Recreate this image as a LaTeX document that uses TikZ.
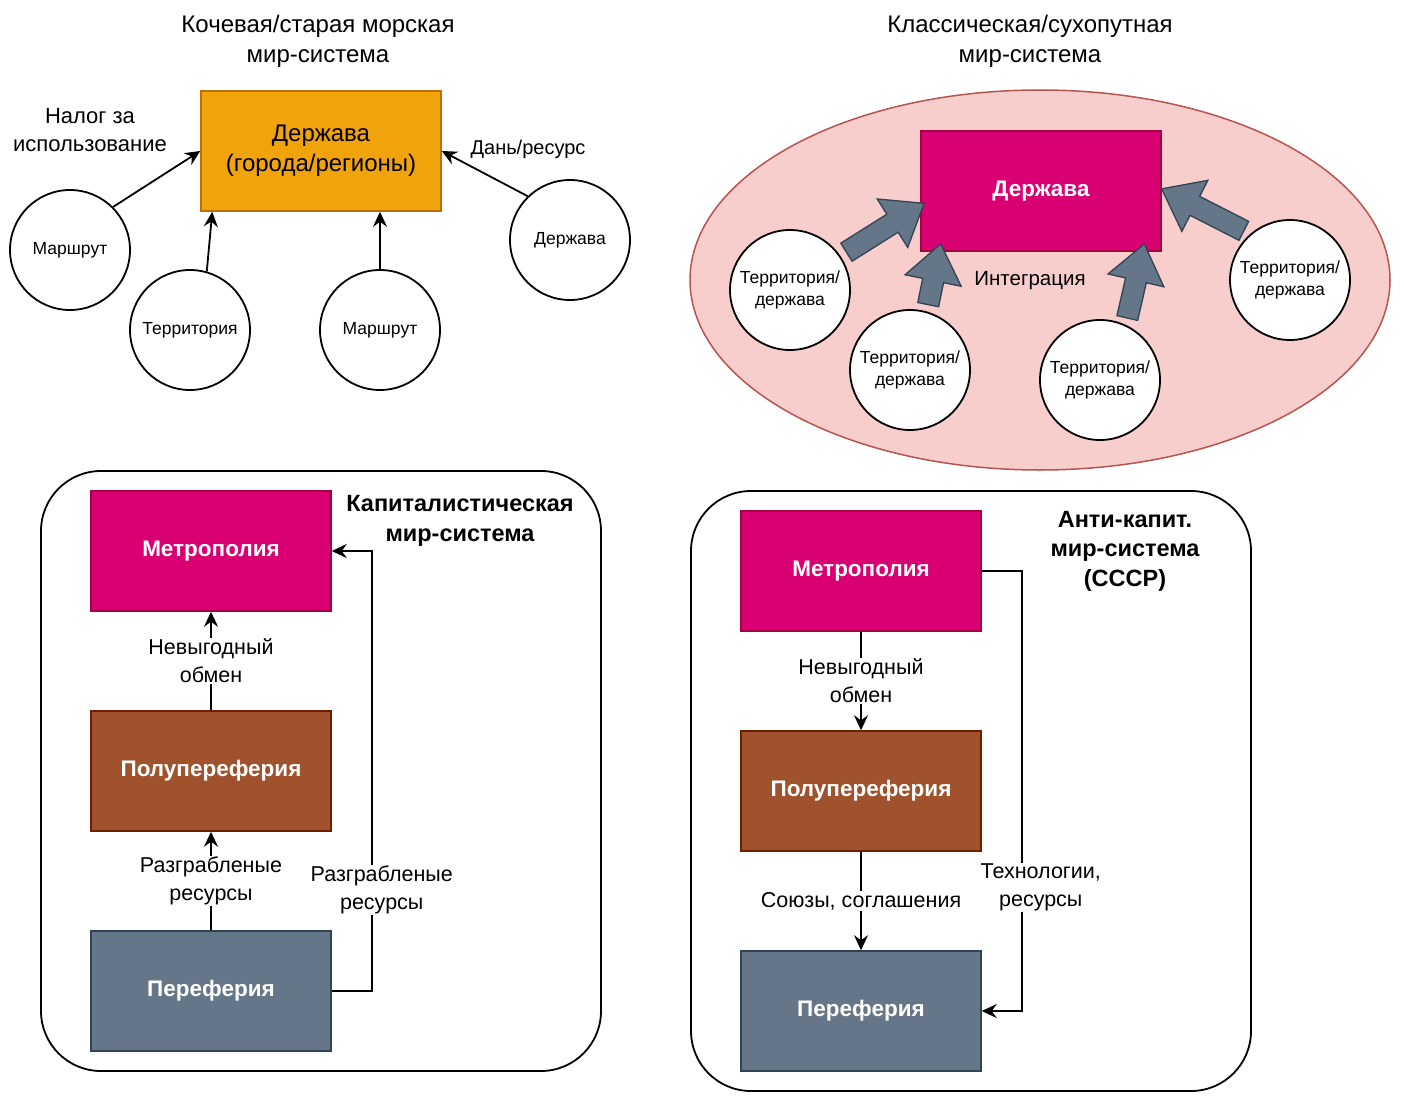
\documentclass[tikz,border=0pt]{standalone}
\usepackage{fontspec}
\setmainfont{Liberation Sans}
\usetikzlibrary{arrows.meta,calc,shapes.arrows}

\definecolor{arancioF}{HTML}{F0A30A}
\definecolor{arancioD}{HTML}{BD7000}
\definecolor{magentaF}{HTML}{D80073}
\definecolor{magentaD}{HTML}{A50040}
\definecolor{marroneF}{HTML}{A0522D}
\definecolor{marroneD}{HTML}{6D1F00}
\definecolor{ardesiaF}{HTML}{647687}
\definecolor{ardesiaD}{HTML}{314354}
\definecolor{rosaF}{HTML}{F8CECC}
\definecolor{rosaD}{HTML}{B85450}

\tikzset{
  blocco/.style={draw, line width=1.5pt, minimum width=240pt, minimum height=120pt,
    inner sep=0pt, align=center, text=white, font=\fontsize{22.5}{27}\selectfont\bfseries},
  cerchio/.style={circle, draw, line width=1.8pt, fill=white, minimum size=120pt,
    inner sep=0pt, align=center, font=\fontsize{17.5}{22}\selectfont},
  freccia/.style={-{Stealth[length=15pt,width=14pt,inset=5pt]}, line width=1.8pt},
  etichetta/.style={fill=white, align=center, inner sep=1pt, font=\fontsize{21.5}{28}\selectfont},
  titolo/.style={align=center, font=\fontsize{24}{30}\selectfont},
  grande/.style={single arrow, draw=ardesiaD, fill=ardesiaF, line width=1.3pt, inner sep=10pt,
    single arrow head extend=18pt, single arrow tip angle=75},
}

% freccia larga da #1 a #2
\newcommand{\frecciona}[2]{%
  \path let \p1=($(#2)-(#1)$), \n1={atan2(\y1,\x1)}, \n2={veclen(\x1,\y1)} in
    node[grande, minimum height=\n2, rotate=\n1] at ($(#1)!0.5!(#2)$) {};}

\begin{document}
\begin{tikzpicture}[x=1pt, y=-1pt]
  \useasboundingbox (0,0) rectangle (1404,1102);

  % Mondo nomade / marittimo
  \node[titolo] (tit1) at (318,41) {Кочевая/старая морская\\мир-система};
  \node[draw=arancioD, fill=arancioF, line width=1.5pt, minimum width=240pt, minimum height=120pt,
    align=center, font=\fontsize{24}{30}\selectfont] (derzh) at (321,151) {Держава\\(города/регионы)};
  \node[cerchio] (rotta1) at (70,250) {Маршрут};
  \node[cerchio] (terr) at (190,330) {Территория};
  \node[cerchio] (rotta2) at (380,330) {Маршрут};
  \node[cerchio] (stato1) at (570,240) {Держава};
  \node[titolo, font=\fontsize{22}{28}\selectfont] (nalog) at (90,130) {Налог за\\использование};
  \node[font=\fontsize{20}{22}\selectfont] (dan) at (528,149) {Дань/ресурс};

  \draw[freccia] (rotta1.45) -- (derzh.west);
  \draw[freccia] (terr.74) -- ($(derzh.south west)+(12,0)$);
  \draw[freccia] (rotta2.north) -- (rotta2.north |- derzh.south);
  \draw[freccia] (stato1.134) -- (derzh.east);

  % Mondo classico / terrestre
  \node[titolo] (tit2) at (1030,41) {Классическая/сухопутная\\мир-система};
  \draw[draw=rosaD, fill=rosaF, line width=1.5pt] (1040,280) ellipse [x radius=350pt, y radius=190pt];
  \node[blocco, draw=magentaD, fill=magentaF] (stato) at (1041,191) {Держава};
  \node[cerchio] (t1) at (790,290) {Территория/\\держава};
  \node[cerchio] (t2) at (910,370) {Территория/\\держава};
  \node[cerchio] (t3) at (1100,380) {Территория/\\держава};
  \node[cerchio] (t4) at (1290,280) {Территория/\\держава};
  \node[font=\fontsize{20.5}{22}\selectfont] (integr) at (1030,281) {Интеграция};

  \frecciona{t1.34}{$(stato.west)+(-2,16)$}
  \frecciona{t2.74}{$(stato.south west)+(19,-1)$}
  \frecciona{t3.65}{$(stato.south east)+(-19,-1)$}
  \frecciona{t4.131}{$(stato.east)+(6,1)$}

  % Sistema capitalistico
  \draw[line width=1.8pt, rounded corners=60pt] (41,471) rectangle (601,1071);
  \node[blocco, draw=magentaD, fill=magentaF] (metro1) at (211,551) {Метрополия};
  \node[blocco, draw=marroneD, fill=marroneF] (polu1) at (211,771) {Полупереферия};
  \node[blocco, draw=ardesiaD, fill=ardesiaF] (peri1) at (211,991) {Переферия};
  \node[titolo, font=\fontsize{23.5}{30}\selectfont\bfseries] (tit3) at (460,521) {Капиталистическая\\мир-система};

  \draw[freccia] (polu1) -- node[etichetta] {Невыгодный\\обмен} (metro1);
  \draw[freccia] (peri1) -- node[etichetta] {Разграбленые\\ресурсы} (polu1);
  \draw[freccia] (peri1.east) -- ++(40,0) |- node[etichetta, pos=0.115, xshift=10pt] {Разграбленые\\ресурсы} (metro1.east);

  % Sistema anticapitalistico
  \draw[line width=1.8pt, rounded corners=60pt] (691,491) rectangle (1251,1091);
  \node[blocco, draw=magentaD, fill=magentaF] (metro2) at (861,571) {Метрополия};
  \node[blocco, draw=marroneD, fill=marroneF] (polu2) at (861,791) {Полупереферия};
  \node[blocco, draw=ardesiaD, fill=ardesiaF] (peri2) at (861,1011) {Переферия};
  \node[titolo, font=\fontsize{23.5}{29.5}\selectfont\bfseries] (tit4) at (1125,551) {Анти-капит.\\мир-система\\(СССР)};

  \draw[freccia] (metro2) -- node[etichetta] {Невыгодный\\обмен} (polu2);
  \draw[freccia] (polu2) -- node[etichetta] {Союзы, соглашения} (peri2);
  \draw[freccia] (metro2.east) -- ++(40,0) |- node[etichetta, pos=0.36, xshift=19pt] {Технологии,\\ресурсы} (peri2.east);
\end{tikzpicture}
\end{document}
